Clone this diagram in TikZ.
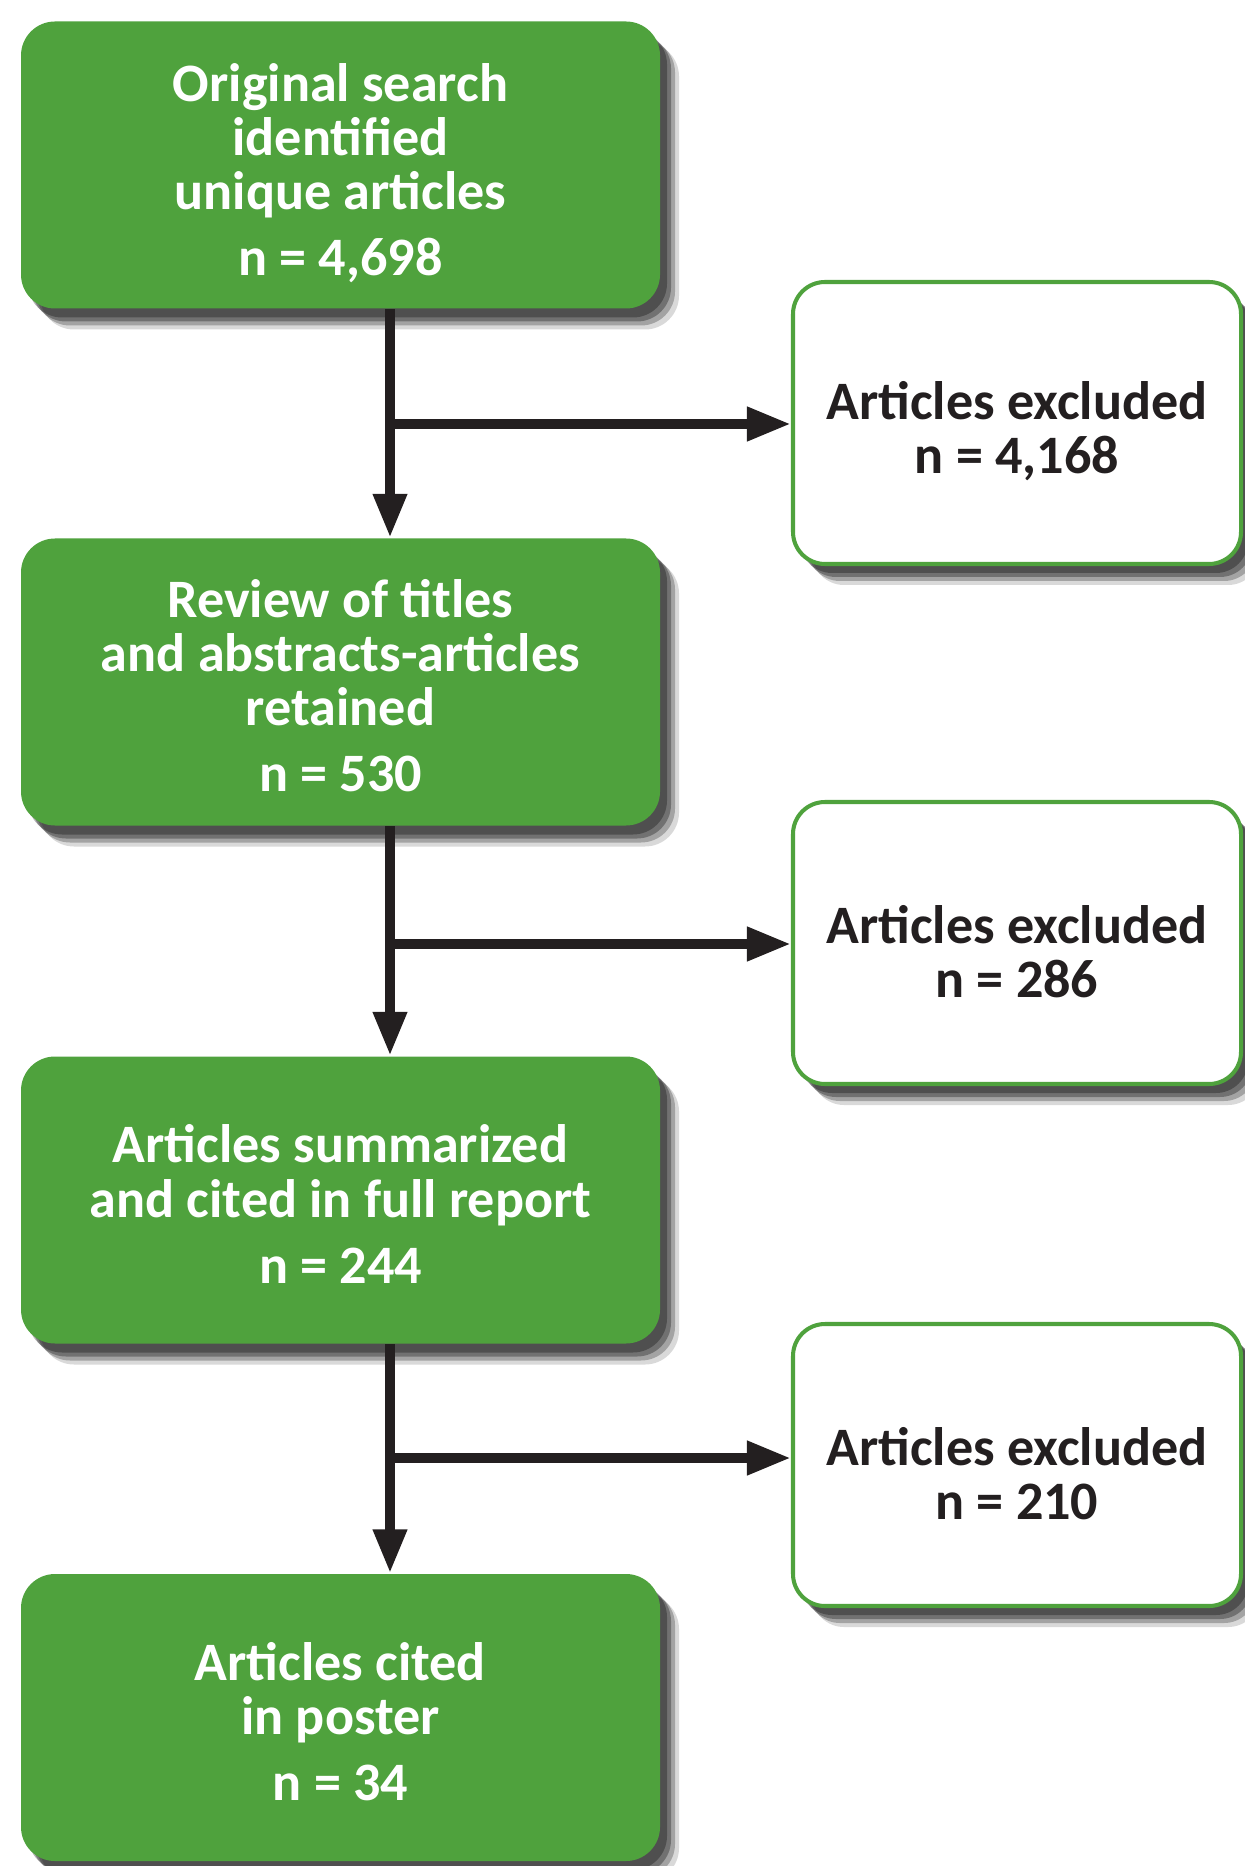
\documentclass[tikz,border=0pt]{standalone}
\usepackage{fontspec}
\setmainfont{Carlito}
\usepackage{tikz}
\usetikzlibrary{arrows.meta,shadows}

\definecolor{boxgreen}{RGB}{79,162,61}
\definecolor{inkblack}{RGB}{35,31,32}

% pushes the first line of a box down a little
\newcommand{\toppad}[1]{\rule{0pt}{#1}}

\tikzset{
    softshadow/.style={
        drop shadow={shadow xshift=0.07cm, shadow yshift=-0.09cm, opacity=0.30, fill=black},
        drop shadow={shadow xshift=0.11cm, shadow yshift=-0.13cm, opacity=0.30, fill=black},
        drop shadow={shadow xshift=0.15cm, shadow yshift=-0.17cm, opacity=0.25, fill=black},
        drop shadow={shadow xshift=0.19cm, shadow yshift=-0.21cm, opacity=0.15, fill=black}},
    boxtext/.style={align=center, inner sep=0pt,
        font=\fontsize{15.4}{15.4}\selectfont\bfseries},
    greenbox/.style={softshadow, boxtext, fill=boxgreen, rounded corners=0.34cm,
        minimum width=6.39cm, minimum height=2.87cm, text=white},
    outbox/.style={softshadow, boxtext, draw=boxgreen, fill=white, line width=1.15pt,
        rounded corners=0.32cm, minimum width=4.48cm, minimum height=2.82cm,
        text=inkblack},
    flow/.style={draw=inkblack, line width=2.85pt,
        -{Triangle[length=0.44cm, width=0.32cm]}}
}

\begin{document}
\begin{tikzpicture}
\useasboundingbox (0,0) rectangle (12.44,-18.66);
%%   kw   (name)   (x, y)   {text}
    \node[greenbox] (found)   at (3.405, -1.65)  {\toppad{0.55cm}Original search\\identified\\unique articles\\[3.4pt]n = 4,698};
    \node[greenbox] (kept)    at (3.405, -6.82)  {\toppad{0.46cm}Review of titles\\and abstracts-articles\\retained\\[3.4pt]n = 530};
    \node[greenbox] (summed)  at (3.405, -12.00) {\toppad{0.46cm}Articles summarized\\and cited in full report\\[3.4pt]n = 244};
    \node[greenbox] (poster)  at (3.405, -17.175) {\toppad{0.46cm}Articles cited\\in poster\\[3.4pt]n = 34};

    \node[outbox] (drop1) at (10.17, -4.23)  {\toppad{0.55cm}Articles excluded\\n = 4,168};
    \node[outbox] (drop2) at (10.17, -9.43)  {\toppad{0.55cm}Articles excluded\\n = 286};
    \node[outbox] (drop3) at (10.17, -14.65) {\toppad{0.55cm}Articles excluded\\n = 210};

    \coordinate (spine) at (3.90, 0);
    \coordinate (fork1) at (3.90, -4.24);
    \coordinate (fork2) at (3.90, -9.44);
    \coordinate (fork3) at (3.90, -14.58);

    \draw[flow] (found.south -| spine) -- (kept.north -| spine);
    \draw[flow] (kept.south -| spine) -- (summed.north -| spine);
    \draw[flow] (summed.south -| spine) -- (poster.north -| spine);

    \draw[flow] (fork1) -- (fork1 -| drop1.west);
    \draw[flow] (fork2) -- (fork2 -| drop2.west);
    \draw[flow] (fork3) -- (fork3 -| drop3.west);
\end{tikzpicture}
\end{document}
